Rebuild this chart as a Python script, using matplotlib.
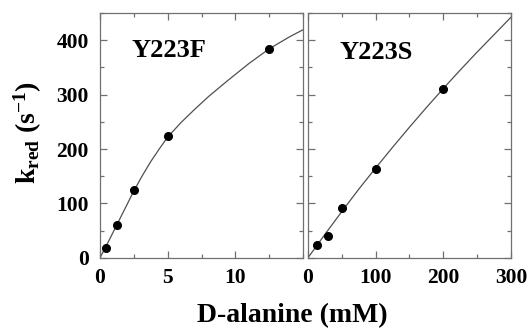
import matplotlib
matplotlib.use("Agg")
import matplotlib.pyplot as plt
from matplotlib.ticker import MultipleLocator

# -------------------------------------------------------------------------------
# Data

# Y223F measured points
f_conc = [0.45, 1.25, 2.5, 5.0, 12.5]
f_rate = [19, 60, 125, 223, 384]

# Y223F fitted curve
f_fit_conc = [0, 0.5, 1.25, 1.875, 2.5, 3.125, 3.75, 4.375, 5, 6, 7, 8, 9.4, 11, 12.5, 14, 15]
f_fit_rate = [0, 24, 61, 92, 123, 151, 177, 200, 222, 249, 273, 296, 325, 357, 384, 406, 419]

# Y223S measured points
s_conc = [13, 30, 50, 100, 200]
s_rate = [24, 41, 92, 164, 311]

# Y223S fitted curve
s_fit_conc = [0, 25, 50, 75, 100, 125, 150, 175, 200, 225, 250, 275, 300]
s_fit_rate = [0, 43, 85, 126, 165, 203, 240, 276, 311, 345, 378, 410, 442]

# -------------------------------------------------------------------------------
# Styling

plt.rcParams['font.family'] = ['Liberation Serif', 'DejaVu Serif']
plt.rcParams['font.weight'] = 'bold'
plt.rcParams['mathtext.fontset'] = 'custom'
plt.rcParams['mathtext.rm'] = 'Liberation Serif:bold'
plt.rcParams['mathtext.bf'] = 'Liberation Serif:bold'
plt.rcParams['mathtext.it'] = 'Liberation Serif:bold'

spine_col = '#707070'
line_col = '#505050'

fig = plt.figure(figsize=(5.29, 3.29), dpi=100)
ax1 = fig.add_axes([0.189, 0.216, 0.384, 0.745])
ax2 = fig.add_axes([0.582, 0.216, 0.384, 0.745])


def style(ax):
	for sp in ax.spines.values():
		sp.set_color(spine_col)
		sp.set_linewidth(0.9)
	ax.tick_params(which='both', direction='in', top=True, right=True,
		colors=spine_col, labelcolor='black', labelsize=15.5)
	ax.tick_params(which='major', length=5, width=0.9)
	ax.tick_params(which='minor', length=3, width=0.9)
	ax.tick_params(axis='y', pad=8)
	ax.tick_params(axis='x', pad=7)
	ax.set_ylim(0, 450)
	ax.yaxis.set_major_locator(MultipleLocator(100))
	ax.yaxis.set_minor_locator(MultipleLocator(50))


# Left panel
ax1.plot(f_fit_conc, f_fit_rate, color=line_col, lw=0.9)
ax1.plot(f_conc, f_rate, 'o', color='black', ms=5.5)
ax1.set_xlim(0, 15)
ax1.xaxis.set_major_locator(MultipleLocator(5))
ax1.xaxis.set_minor_locator(MultipleLocator(2.5))
style(ax1)
ax1.set_xticks([0, 5, 10])
ax1.set_xticklabels(['0', '5', '10'], fontweight='bold')
ax1.set_yticks([0, 100, 200, 300, 400])
ax1.set_yticklabels(['0', '100', '200', '300', '400'], fontweight='bold')
ax1.text(0.157, 0.845, 'Y223F', transform=ax1.transAxes, fontsize=19,
	fontweight='bold', va='center', ha='left')

# Right panel
ax2.plot(s_fit_conc, s_fit_rate, color=line_col, lw=0.9)
ax2.plot(s_conc, s_rate, 'o', color='black', ms=5.5)
ax2.set_xlim(0, 300)
ax2.xaxis.set_major_locator(MultipleLocator(100))
ax2.xaxis.set_minor_locator(MultipleLocator(50))
style(ax2)
ax2.set_xticks([0, 100, 200, 300])
ax2.set_xticklabels(['0', '100', '200', '300'], fontweight='bold')
ax2.tick_params(labelleft=False)
ax2.text(0.158, 0.837, 'Y223S', transform=ax2.transAxes, fontsize=19,
	fontweight='bold', va='center', ha='left')

# Shared axis labels
fig.text(0.552, 0.021, 'D-alanine (mM)', fontsize=20, fontweight='bold',
	ha='center', va='baseline')
fig.text(0.053, 0.596, r'k$_{\mathbf{red}}$ (s$^{\mathbf{-1}}$)', fontsize=20,
	fontweight='bold', rotation=90, ha='center', va='center')

fig.savefig('out.png', dpi=100)
